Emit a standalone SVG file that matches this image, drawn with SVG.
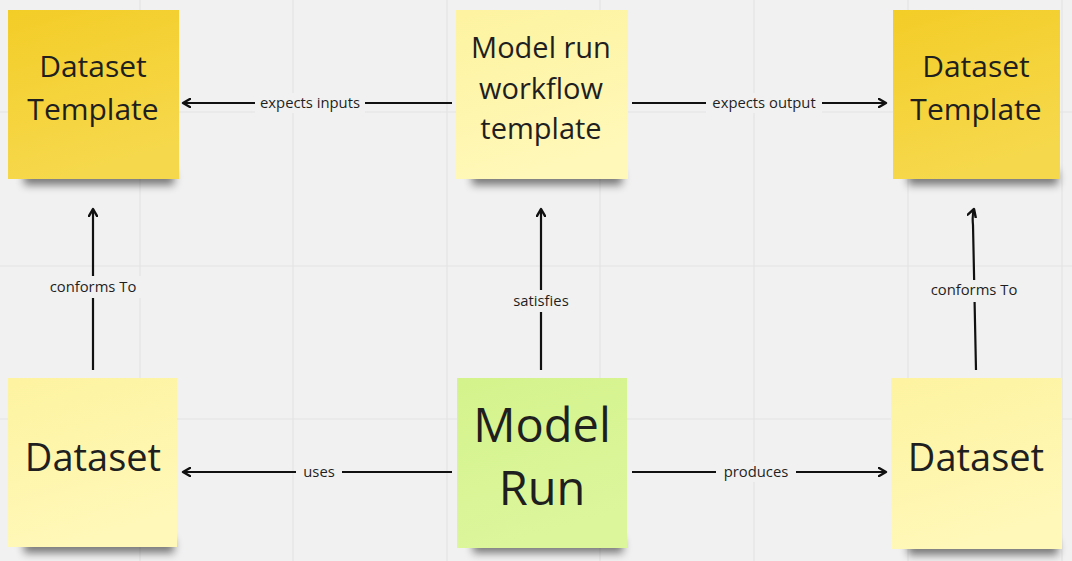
<svg xmlns="http://www.w3.org/2000/svg" width="1072" height="561" viewBox="0 0 1072 561">
<defs>
<style>
.grid{stroke:#e4e4e4;stroke-width:1.2}
.node-text{font-family:"Open Sans","Noto Sans","Liberation Sans",sans-serif;fill:#1f1f1f;text-anchor:middle}
.lbl{font-family:"Open Sans","Noto Sans","Liberation Sans",sans-serif;font-size:14.8px;fill:#1f1f1f;text-anchor:middle}
.conn{stroke:#111;stroke-width:2.2;fill:none;marker-end:url(#arr)}
.lblbg{fill:#f1f1f1}
</style>
<linearGradient id="gY" x1="0" y1="0" x2="0.3" y2="1">
<stop offset="0" stop-color="#f3cd27"/>
<stop offset="1" stop-color="#f6d84c"/>
</linearGradient>
<linearGradient id="gL" x1="0" y1="0" x2="0.3" y2="1">
<stop offset="0" stop-color="#fdf3a0"/>
<stop offset="1" stop-color="#fff8b8"/>
</linearGradient>
<linearGradient id="gG" x1="0" y1="0" x2="0.3" y2="1">
<stop offset="0" stop-color="#d4f38c"/>
<stop offset="1" stop-color="#dcf69c"/>
</linearGradient>
<filter id="sh" x="-20%" y="-100%" width="140%" height="300%">
<feGaussianBlur stdDeviation="4"/>
</filter>
<marker id="arr" viewBox="0 0 10 10" refX="8" refY="5" markerWidth="4.8" markerHeight="4.8" orient="auto" markerUnits="strokeWidth">
<path d="M1,1 L8,5 L1,9" fill="none" stroke="#111" stroke-width="2.3" stroke-linecap="round" stroke-linejoin="round"/>
</marker>
</defs>
<rect width="1072" height="561" fill="#f1f1f1"/>
<g id="grid">
<line class="grid" x1="140" y1="0" x2="140" y2="561"/>
<line class="grid" x1="293" y1="0" x2="293" y2="561"/>
<line class="grid" x1="447" y1="0" x2="447" y2="561"/>
<line class="grid" x1="600" y1="0" x2="600" y2="561"/>
<line class="grid" x1="754" y1="0" x2="754" y2="561"/>
<line class="grid" x1="908" y1="0" x2="908" y2="561"/>
<line class="grid" x1="1062" y1="0" x2="1062" y2="561"/>
<line class="grid" x1="0" y1="112" x2="1072" y2="112"/>
<line class="grid" x1="0" y1="266" x2="1072" y2="266"/>
<line class="grid" x1="0" y1="419" x2="1072" y2="419"/>
</g>
<g id="connectors">
<line class="conn" x1="452" y1="103" x2="183" y2="103"/>
<line class="conn" x1="632" y1="103" x2="886" y2="103"/>
<line class="conn" x1="93" y1="370" x2="93" y2="209"/>
<line class="conn" x1="541" y1="370" x2="541" y2="209"/>
<path class="conn" d="M976,370 L973,225 Q972,215 974,209"/>
<line class="conn" x1="452" y1="472" x2="183" y2="472"/>
<line class="conn" x1="632" y1="472" x2="886" y2="472"/>
<rect class="lblbg" x="255" y="93" width="110" height="20"/>
<text class="lbl" x="310" y="108">expects inputs</text>
<rect class="lblbg" x="706" y="93" width="116" height="20"/>
<text class="lbl" x="764" y="108">expects output</text>
<rect class="lblbg" x="43" y="276" width="100" height="22"/>
<text class="lbl" x="93" y="292">conforms To</text>
<rect class="lblbg" x="503" y="290" width="76" height="22"/>
<text class="lbl" x="541" y="306">satisfies</text>
<rect class="lblbg" x="924" y="280" width="100" height="22"/>
<text class="lbl" x="974" y="295">conforms To</text>
<rect class="lblbg" x="296" y="462" width="46" height="20"/>
<text class="lbl" x="319" y="477">uses</text>
<rect class="lblbg" x="716" y="462" width="80" height="20"/>
<text class="lbl" x="756" y="477">produces</text>
</g>
<g id="node-dataset-template-left">
<rect x="24" y="171" width="150" height="14" fill="#000" opacity="0.5" filter="url(#sh)"/>
<rect x="8" y="10" width="171" height="169" fill="url(#gY)"/>
<text class="node-text" font-size="30" x="93" y="77">Dataset</text>
<text class="node-text" font-size="30" x="93" y="120">Template</text>
</g>
<g id="node-model-run-workflow-template">
<rect x="472" y="171" width="150" height="14" fill="#000" opacity="0.5" filter="url(#sh)"/>
<rect x="456" y="10" width="172" height="169" fill="url(#gL)"/>
<text class="node-text" font-size="29" x="541" y="58">Model run</text>
<text class="node-text" font-size="29" x="541" y="99">workflow</text>
<text class="node-text" font-size="29" x="541" y="139">template</text>
</g>
<g id="node-dataset-template-right">
<rect x="908" y="171" width="150" height="14" fill="#000" opacity="0.5" filter="url(#sh)"/>
<rect x="893" y="10" width="167" height="169" fill="url(#gY)"/>
<text class="node-text" font-size="30" x="976" y="77">Dataset</text>
<text class="node-text" font-size="30" x="976" y="120">Template</text>
</g>
<g id="node-dataset-left">
<rect x="24" y="539" width="150" height="14" fill="#000" opacity="0.5" filter="url(#sh)"/>
<rect x="8" y="378" width="169" height="169" fill="url(#gL)"/>
<text class="node-text" font-size="38" x="93" y="471">Dataset</text>
</g>
<g id="node-model-run">
<rect x="473" y="539" width="150" height="14" fill="#000" opacity="0.5" filter="url(#sh)"/>
<rect x="457" y="378" width="170" height="170" fill="url(#gG)"/>
<text class="node-text" font-size="47" x="542" y="442">Model</text>
<text class="node-text" font-size="47" x="542" y="505">Run</text>
</g>
<g id="node-dataset-right">
<rect x="908" y="541" width="150" height="14" fill="#000" opacity="0.5" filter="url(#sh)"/>
<rect x="891" y="378" width="171" height="171" fill="url(#gL)"/>
<text class="node-text" font-size="38" x="976" y="471">Dataset</text>
</g>
</svg>
